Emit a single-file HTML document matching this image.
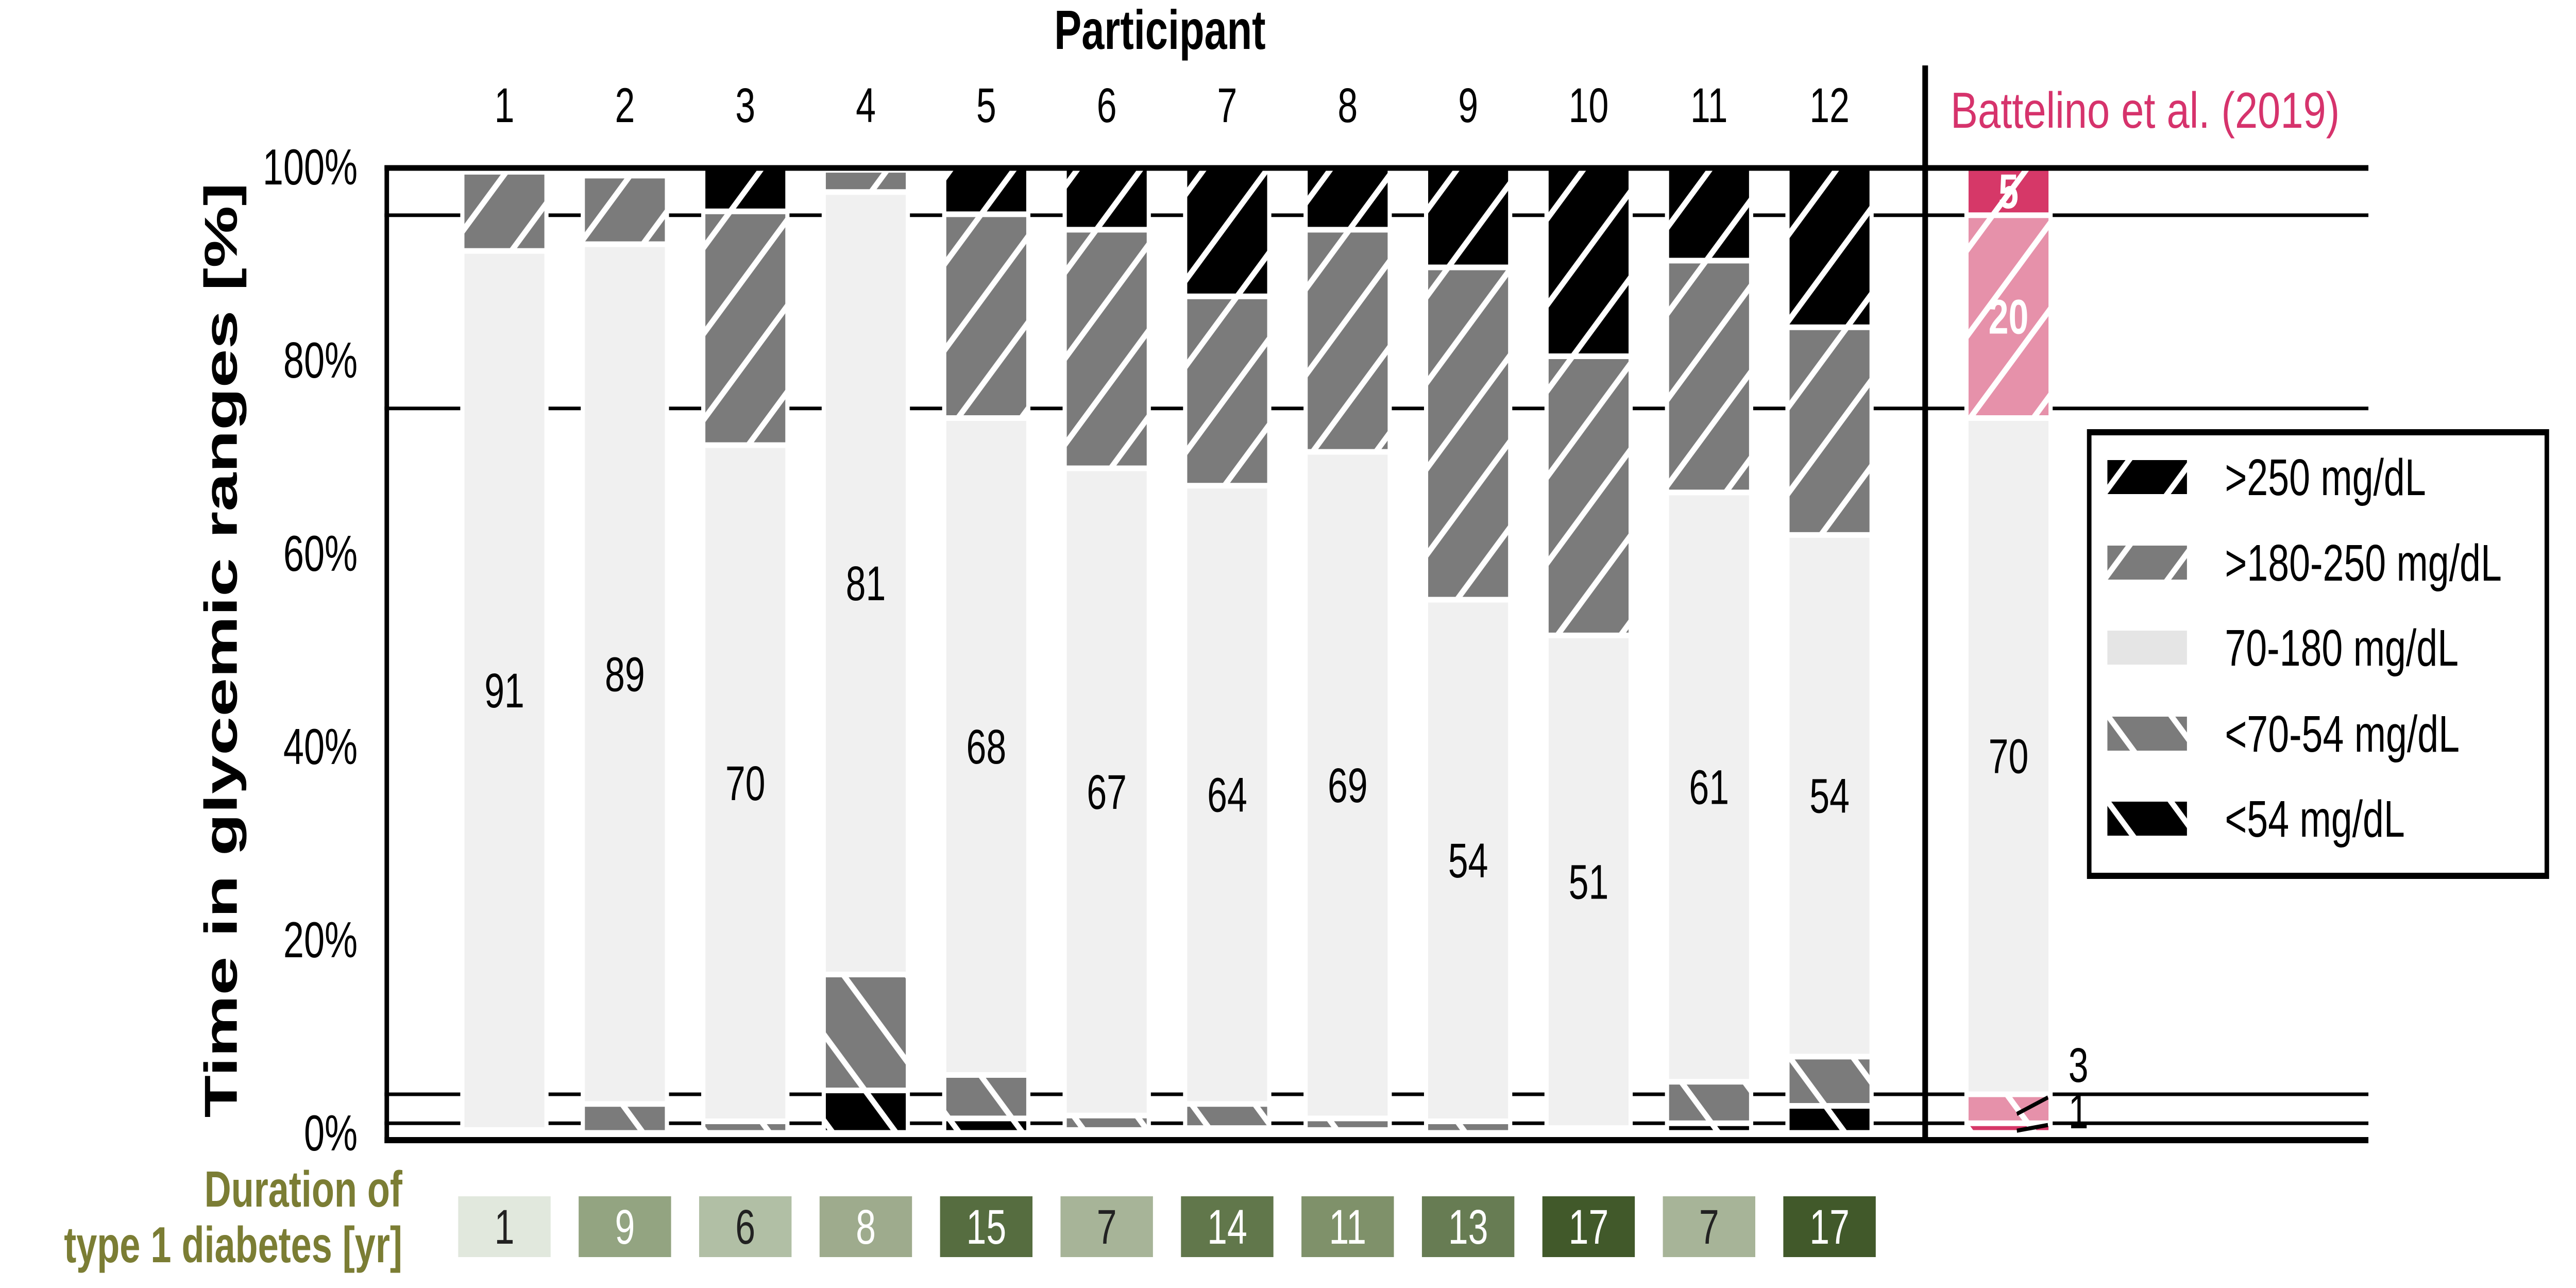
<!DOCTYPE html>
<html><head><meta charset="utf-8">
<style>
html,body{margin:0;padding:0;background:#fff;overflow:hidden;}
svg{display:block;width:100vw;height:100vh;}
text{font-family:"Liberation Sans","DejaVu Sans",sans-serif;}
</style></head>
<body>
<svg id="chart" xmlns="http://www.w3.org/2000/svg" viewBox="0 0 6800 2500" preserveAspectRatio="none">
<defs>
  <pattern id="hatchUpBlack" patternUnits="userSpaceOnUse" width="167" height="167">
    <rect width="167" height="167" fill="#000"/>
    <path d="M-20,20 L20,-20 M0,167 L167,0 M147,187 L187,147" stroke="#fff" stroke-width="13"/>
  </pattern>
  <pattern id="hatchUpGray" patternUnits="userSpaceOnUse" width="167" height="167">
    <rect width="167" height="167" fill="#7b7b7b"/>
    <path d="M-20,20 L20,-20 M0,167 L167,0 M147,187 L187,147" stroke="#fff" stroke-width="13"/>
  </pattern>
  <pattern id="hatchDownGray" patternUnits="userSpaceOnUse" width="167" height="167">
    <rect width="167" height="167" fill="#7b7b7b"/>
    <path d="M-20,147 L20,187 M0,0 L167,167 M147,-20 L187,20" stroke="#fff" stroke-width="13"/>
  </pattern>
  <pattern id="hatchDownBlack" patternUnits="userSpaceOnUse" width="167" height="167">
    <rect width="167" height="167" fill="#000"/>
    <path d="M-20,147 L20,187 M0,0 L167,167 M147,-20 L187,20" stroke="#fff" stroke-width="13"/>
  </pattern>
  <pattern id="pinkUp" patternUnits="userSpaceOnUse" width="167" height="167">
    <rect width="167" height="167" fill="#e691aa"/>
    <path d="M-20,20 L20,-20 M0,167 L167,0 M147,187 L187,147" stroke="#fff" stroke-width="13"/>
  </pattern>
  <pattern id="pinkDark" patternUnits="userSpaceOnUse" width="167" height="167">
    <rect width="167" height="167" fill="#d63868"/>
    <path d="M-20,20 L20,-20 M0,167 L167,0 M147,187 L187,147" stroke="#fff" stroke-width="13"/>
  </pattern>
  <pattern id="pinkDown" patternUnits="userSpaceOnUse" width="167" height="167">
    <rect width="167" height="167" fill="#e691aa"/>
    <path d="M-20,147 L20,187 M0,0 L167,167 M147,-20 L187,20" stroke="#fff" stroke-width="13"/>
  </pattern>
  <pattern id="pinkDownDark" patternUnits="userSpaceOnUse" width="167" height="167">
    <rect width="167" height="167" fill="#d63868"/>
    <path d="M-20,147 L20,187 M0,0 L167,167 M147,-20 L187,20" stroke="#fff" stroke-width="13"/>
  </pattern>
</defs>
<g id="targets"></g>
<g id="bars"></g>
<g id="axes"></g>
<g id="legend"></g>
</svg>
<script>
const participants = ["1","2","3","4","5","6","7","8","9","10","11","12"];
const below54   = [0, 0, 0, 4.4, 1.5, 0.3, 0.5, 0.3, 0, 0, 1, 2.8];
const range5470 = [0.3, 3, 1.2, 12, 4.5, 1.5, 2.5, 1.2, 1.2, 0.5, 4.3, 5.1];
const tir       = [91, 89, 70, 81, 68, 67, 64, 69, 54, 51, 61, 54];
const range180  = [8.2, 7.1, 24.2, 2.3, 21.1, 24.7, 19.6, 23, 34.4, 28.9, 24, 21.5];
const above250  = [0, 0, 4.6, 0, 4.9, 6.5, 13.4, 6.5, 10.4, 19.6, 9.7, 16.6];
const durations = [1, 9, 6, 8, 15, 7, 14, 11, 13, 17, 7, 17];
const battelino = [1, 3, 70, 21, 5];
const battelinoLabels = ["1", "3", "70", "20", "5"];
const targetLevels = [95, 75, 4, 1];
const yTicks = [0, 20, 40, 60, 80, 100];

const NS = "http://www.w3.org/2000/svg";
const Y0 = 2199, Y100 = 324;
const y = v => Y0 - (Y0 - Y100) * v / 100;
const xc = i => 1331.5 + i * 318;
const BW = 211;
const BX = 5302;
function mk(tag, attrs, parent, txt){
  const e = document.createElementNS(NS, tag);
  for (const k in attrs) e.setAttribute(k, attrs[k]);
  if (txt !== undefined) e.textContent = txt;
  parent.appendChild(e);
  return e;
}
const gT = document.getElementById('targets');
const gB = document.getElementById('bars');
const gA = document.getElementById('axes');
const gL = document.getElementById('legend');

targetLevels.forEach(t => {
  const l = mk('line', {x1:1015, x2:6252, y1:y(t), y2:y(t), stroke:'#000', 'stroke-width':7}, gT);
  
  
});

function stack(cx, vals, fills, name){
  const g = mk('g', {}, gB);
  
  
  mk('rect', {x:cx-BW/2-11, y:Y100-10, width:BW+22, height:Y0-Y100+10, fill:'#fff'}, g);
  let base = 0; const segs = [];
  vals.forEach((v, k) => {
    if (v > 0) {
      const top = y(base + v), bot = y(base);
      const h = Math.max(0, bot - top - 11);
      const r = mk('rect', {x:cx-BW/2, y:top + 5.5, width:BW, height:h, fill:fills[k]}, g);
      
      
    }
    segs.push([base, base+v]);
    base += v;
  });
  return {g, segs};
}
const fillsP = ['url(#hatchDownBlack)','url(#hatchDownGray)','#f0f0f0','url(#hatchUpGray)','url(#hatchUpBlack)'];
const shade = ['#e1e8dd','#b1bfa5','#a7b498','#9eab8d','#93a481','#7f916a','#677c53','#61774b','#566d40','#41592a'];
const shadeMap = {1:0,6:1,7:2,8:3,9:4,11:5,13:6,14:7,15:8,17:9};
participants.forEach((p, i) => {
  const vals = [below54[i], range5470[i], tir[i], range180[i], above250[i]];
  const {g, segs} = stack(xc(i), vals, fillsP, 'bar-participant-' + p);
  const mid = (segs[2][0] + segs[2][1]) / 2;
  const t = mk('text', {x:xc(i), y:y(mid)+33, 'font-size':95, 'text-anchor':'middle', fill:'#000'}, g, String(tir[i]));
  
  
  const n = mk('text', {x:xc(i), y:237, 'font-size':95, 'text-anchor':'middle', fill:'#000'}, gA, p);
  
  
  const d = durations[i];
  const idx = shadeMap[d] !== undefined ? shadeMap[d] : Math.min(9, Math.round(d/2));
  const b = mk('rect', {x:xc(i)-122, y:2322, width:244, height:118, fill:shade[idx]}, gA);
  
  
  const dt = mk('text', {x:xc(i), y:2414, 'font-size':95, 'text-anchor':'middle', fill:(d<=7?'#222':'#fff')}, gA, String(d));
  
  
});

const fillsB = ['url(#pinkDownDark)','url(#pinkDown)','#f0f0f0','url(#pinkUp)','url(#pinkDark)'];
const bres = stack(BX, battelino, fillsB, 'bar-battelino');
const bs = bres.segs;
let tt = mk('text', {x:BX, y:y((bs[2][0]+bs[2][1])/2)+33, 'font-size':95, 'text-anchor':'middle'}, bres.g, battelinoLabels[2]);


tt = mk('text', {x:BX, y:y((bs[3][0]+bs[3][1])/2)+33, 'font-size':95, 'font-weight':'bold', 'text-anchor':'middle', fill:'#fff'}, bres.g, battelinoLabels[3]);


tt = mk('text', {x:BX, y:y((bs[4][0]+bs[4][1])/2)+33, 'font-size':95, 'font-weight':'bold', 'text-anchor':'middle', fill:'#fff'}, bres.g, battelinoLabels[4]);


const l1 = mk('line', {x1:BX+22, y1:y((bs[1][0]+bs[1][1])/2)+10, x2:BX+104, y2:y((bs[1][0]+bs[1][1])/2)-22, stroke:'#000','stroke-width':8}, bres.g);


const l2 = mk('line', {x1:BX+22, y1:y(bs[0][1]/2)+5, x2:BX+104, y2:y(bs[0][1]/2)-6, stroke:'#000','stroke-width':8}, bres.g);


tt = mk('text', {x:5460, y:2100, 'font-size':95}, bres.g, battelinoLabels[1]);


tt = mk('text', {x:5460, y:2190, 'font-size':95}, bres.g, battelinoLabels[0]);



let e;
e = mk('line', {x1:1015, x2:6252, y1:326, y2:326, stroke:'#000','stroke-width':11}, gA);
 
e = mk('line', {x1:1015, x2:6252, y1:2213, y2:2213, stroke:'#000','stroke-width':12}, gA);
 
e = mk('line', {x1:1021, x2:1021, y1:321, y2:2219, stroke:'#000','stroke-width':12}, gA);
 
e = mk('line', {x1:5082, x2:5082, y1:127, y2:2219, stroke:'#000','stroke-width':15}, gA);
 
yTicks.forEach(t => {
  const tx = mk('text', {x:944, y:y(t)+34, 'font-size':98, 'text-anchor':'end'}, gA, t + '%');
  
  
});
e = mk('text', {x:0, y:0, 'font-size':122, 'font-weight':'bold', 'text-anchor':'middle', textLength:1815, lengthAdjust:'spacingAndGlyphs', transform:'translate(625,1262) rotate(-90)'}, gA, 'Time in glycemic ranges [%]');
 
e = mk('text', {x:3062, y:95, 'font-size':108, 'font-weight':'bold', 'text-anchor':'middle'}, gA, 'Participant');
 
e = mk('text', {x:5149, y:248, 'font-size':98, fill:'#d6336c', textLength:1027, lengthAdjust:'spacingAndGlyphs'}, gA, 'Battelino et al. (2019)');
 
e = mk('text', {x:1062, y:2342, 'font-size':98, 'font-weight':'bold', fill:'#7b7d34', 'text-anchor':'end'}, gA, 'Duration of');
 
e = mk('text', {x:1062, y:2450, 'font-size':98, 'font-weight':'bold', fill:'#7b7d34', 'text-anchor':'end'}, gA, 'type 1 diabetes [yr]');
 

e = mk('rect', {x:5515, y:839, width:1208, height:861, fill:'#fff', stroke:'#000','stroke-width':12}, gL);
 
const legendLabels = ['>250 mg/dL','>180-250 mg/dL','70-180 mg/dL','<70-54 mg/dL','<54 mg/dL'];
const legendFills = ['url(#hatchUpBlack)','url(#hatchUpGray)','#e5e5e5','url(#hatchDownGray)','url(#hatchDownBlack)'];
const legendY = [893, 1059, 1224, 1391, 1556];
legendLabels.forEach((lab, k) => {
  const g = mk('g', {}, gL);
  
  
  mk('rect', {x:5563, y:legendY[k], width:210, height:66, fill:legendFills[k]}, g);
  mk('text', {x:5873, y:legendY[k]+68, 'font-size':100}, g, lab);
});
</script>
</body></html>
